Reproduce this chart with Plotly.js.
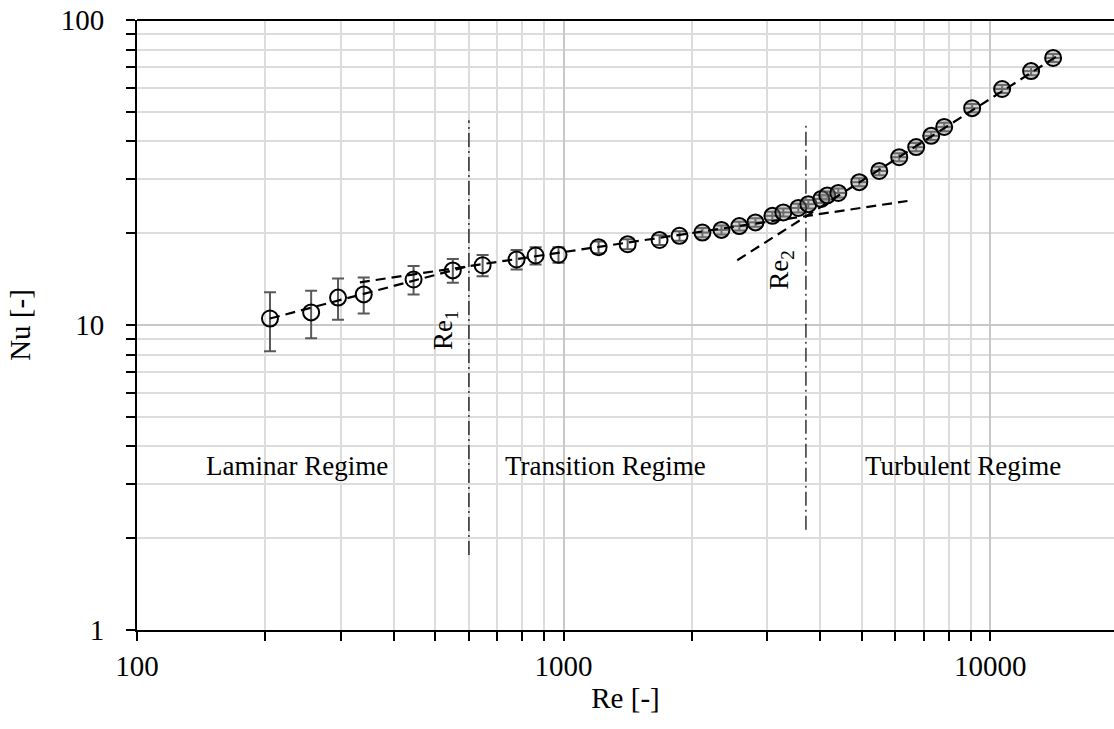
<!DOCTYPE html>
<html>
<head>
<meta charset="utf-8">
<script src="https://cdn.plot.ly/plotly-3.0.1.min.js"></script>
<style>html,body{margin:0;padding:0;background:#fff;}#chart{width:1114px;height:729px;}</style>
</head>
<body>
<div id="chart"></div>
<script>
// Measured data points
const re = [205, 256, 296, 340, 445, 550, 646, 776, 860, 973, 1208, 1413, 1679, 1870, 2116, 2345, 2583, 2817, 3087, 3275, 3551, 3748, 4020, 4152, 4406, 4935, 5497, 6122, 6709, 7275, 7804, 9075, 10670, 12475, 14050];
const nu = [10.5, 11.0, 12.3, 12.6, 14.1, 15.1, 15.7, 16.4, 16.9, 17.0, 18.0, 18.4, 19.0, 19.6, 20.1, 20.5, 21.1, 21.7, 22.8, 23.4, 24.2, 24.9, 25.9, 26.6, 27.1, 29.4, 32.0, 35.5, 38.3, 41.7, 44.6, 51.4, 59.4, 68.0, 75.1];
const nuErr = [2.3, 1.95, 1.9, 1.7, 1.5, 1.35, 1.25, 1.2, 1.1, 1.0, 0.8, 0.7, 0.7, 0.7, 0.7, 0.7, 0.7, 0.7, 0.7, 0.7, 0.8, 0.8, 0.8, 0.8, 0.9, 0.9, 1.0, 1.1, 1.2, 1.3, 1.4, 1.6, 1.8, 2.1, 2.3];
const reErr = [0, 0, 0, 0, 0, 0, 0, 0, 0, 0, 0, 0, 0, 0, 80, 90, 100, 110, 120, 125, 135, 140, 150, 155, 165, 185, 205, 230, 250, 270, 290, 340, 400, 465, 525];

// Fitted correlations (end points)
const lamFitRe = [205, 600];
const lamFitNu = [10.5, 15.6];
const traFitRe = [333, 6400];
const traFitNu = [13.8, 25.5];
const turFitRe = [2554, 14500];
const turFitNu = [16.3, 76.8];

// Critical Reynolds numbers (vertical markers)
const re1Re = [600, 600];
const re1Nu = [1.76, 46.9];
const re2Re = [3700, 3700];
const re2Nu = [2.13, 45.3];

// Tick labels
const decadeTicksX = [100, 1000, 10000];
const decadeTicksY = [1, 10, 100];

// Text labels (Re, Nu)
const regimeLabels = ['Laminar Regime', 'Transition Regime', 'Turbulent Regime'];
const regimeRe = [237, 1254, 8650];
const regimeNu = [3.45, 3.45, 3.45];
const critLabels = ['Re<sub>1</sub>', 'Re<sub>2</sub>'];
const critRe = [529, 3239];
const critNu = [9.6, 15.1];

function minorVals(lo, hi) {
  const out = [];
  for (let d = lo; d < hi; d++) {
    for (let k = 2; k <= 9; k++) out.push(k * Math.pow(10, d));
  }
  return out;
}

const FONT = 'Liberation Serif, Times New Roman, serif';

const fillCols = re.map(v => v > 2000 ? 'rgba(140,140,140,0.38)' : 'rgba(255,255,255,0)');

const traces = [
  {
    x: re1Re, y: re1Nu, mode: 'lines', type: 'scatter',
    line: {color: '#000', width: 1.2, dash: '14px,4px,2px,4px'}, hoverinfo: 'skip'
  },
  {
    x: re2Re, y: re2Nu, mode: 'lines', type: 'scatter',
    line: {color: '#000', width: 1.2, dash: '14px,4px,2px,4px'}, hoverinfo: 'skip'
  },
  {
    x: re, y: nu, mode: 'markers', type: 'scatter',
    marker: {symbol: 'circle', size: 16, color: fillCols, line: {color: '#000', width: 2}},
    error_y: {type: 'data', array: nuErr, visible: true, color: '#595959', thickness: 2, width: 6},
    error_x: {type: 'data', array: reErr, visible: true, color: '#595959', thickness: 2, width: 0}
  },
  {
    x: lamFitRe, y: lamFitNu, mode: 'lines', type: 'scatter',
    line: {color: '#000', width: 2.2, dash: '10px,6px'}
  },
  {
    x: traFitRe, y: traFitNu, mode: 'lines', type: 'scatter',
    line: {color: '#000', width: 2.2, dash: '10px,6px'}
  },
  {
    x: turFitRe, y: turFitNu, mode: 'lines', type: 'scatter',
    line: {color: '#000', width: 2.2, dash: '10px,6px'}
  }
];

const annotations = [];
regimeLabels.forEach((t, i) => annotations.push({
  x: Math.log10(regimeRe[i]), y: Math.log10(regimeNu[i]), xref: 'x', yref: 'y',
  text: t, showarrow: false, font: {family: FONT, size: 27, color: '#000'},
  xanchor: 'center', yanchor: 'middle'
}));
critLabels.forEach((t, i) => annotations.push({
  x: Math.log10(critRe[i]), y: Math.log10(critNu[i]), xref: 'x', yref: 'y',
  text: t, showarrow: false, textangle: -90, font: {family: FONT, size: 27, color: '#000'},
  xanchor: 'center', yanchor: 'middle'
}));

const layout = {
  width: 1114, height: 729,
  margin: {l: 137, r: 0, t: 20, b: 99},
  paper_bgcolor: '#fff', plot_bgcolor: '#fff',
  showlegend: false,
  font: {family: FONT, size: 29, color: '#000'},
  xaxis: {
    type: 'log', range: [2, 4.2904],
    tickvals: decadeTicksX, ticktext: decadeTicksX.map(String),
    showgrid: true, gridcolor: '#c8c8c8', gridwidth: 2,
    minor: {tickvals: minorVals(2, 5), showgrid: true, gridcolor: '#dcdcdc', gridwidth: 2, ticks: 'outside', ticklen: 9, tickwidth: 2, tickcolor: '#000'},
    ticks: 'outside', ticklen: 9, tickwidth: 2, tickcolor: '#000',
    showline: true, linecolor: '#000', linewidth: 2,
    zeroline: false, ticklabelstandoff: 0,
    tickfont: {family: FONT, size: 29, color: '#000'},
    title: {text: 'Re [-]', font: {family: FONT, size: 29, color: '#000'}, standoff: 0},
    automargin: false
  },
  yaxis: {
    type: 'log', range: [0, 2],
    tickvals: decadeTicksY, ticktext: decadeTicksY.map(String),
    showgrid: true, gridcolor: '#c8c8c8', gridwidth: 2,
    minor: {tickvals: minorVals(0, 2), showgrid: true, gridcolor: '#dcdcdc', gridwidth: 2, ticks: 'outside', ticklen: 9, tickwidth: 2, tickcolor: '#000'},
    ticks: 'outside', ticklen: 9, tickwidth: 2, tickcolor: '#000',
    showline: true, linecolor: '#000', linewidth: 2,
    zeroline: false, ticklabelstandoff: 16,
    tickfont: {family: FONT, size: 29, color: '#000'},
    title: {text: 'Nu [-]', font: {family: FONT, size: 29, color: '#000'}, standoff: 22},
    automargin: false
  },
  shapes: [
    {type: 'line', xref: 'paper', yref: 'paper', x0: 0, x1: 1, y0: 1, y1: 1, line: {color: '#000', width: 2}}
  ],
  annotations: annotations
};

Plotly.newPlot('chart', traces, layout, {staticPlot: true, displayModeBar: false});
</script>
</body>
</html>
